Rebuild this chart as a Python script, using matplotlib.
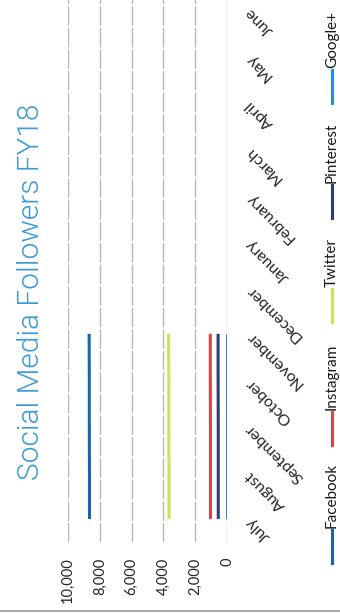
import matplotlib
matplotlib.use("Agg")
import matplotlib.pyplot as plt
from matplotlib.lines import Line2D

# data
months = ["July", "August", "September", "October", "November", "December",
          "January", "February", "March", "April", "May", "June"]
series = ["Facebook", "Instagram", "Twitter", "Pinterest", "Google+"]
facebook = [8650, 8650, 8660, 8660, 8670]
instagram = [1040, 1040, 1040, 1050, 1050]
twitter = [3650, 3650, 3660, 3660, 3670]
pinterest = [550, 550, 550, 560, 560]
google = [30, 30, 30, 30, 30]
value_ticks = [0, 2000, 4000, 6000, 8000, 10000]

colors = ["#1B64AC", "#D8434C", "#CFE05A", "#2C3D72", "#2290D8"]
values = [facebook, instagram, twitter, pinterest, google]

plt.rcParams['font.family'] = ['Lato', 'DejaVu Sans']

W, H = 340, 614
fig = plt.figure(figsize=(W / 100, H / 100), dpi=100)

def fx(px):
    return px / W

def fy(py):
    return 1 - py / H

# chart is rotated: value axis runs horizontally (inverted), months run upward
ax = fig.add_axes([fx(68), fy(542.2), fx(227) - fx(68), (542.2 + 13.5) / H])
idx = list(range(len(months)))
for vals, c in zip(values, colors):
    ax.plot(vals, idx[:len(vals)], color=c, lw=2.2, solid_capstyle='butt')

ax.set_xlim(10000, 0)
ax.set_ylim(-0.5, len(months) - 0.5)
ax.set_xticks(value_ticks)
ax.set_xticklabels([f"{v:,}" for v in value_ticks], rotation=90, fontsize=10.5, color="#262626")
ax.tick_params(axis='x', length=0, pad=11)
ax.yaxis.tick_right()
ax.set_yticks(idx)
ax.set_yticklabels(months, rotation=135, rotation_mode='anchor', ha='right', va='center',
                   fontsize=11.5, color="#262626")
ax.tick_params(axis='y', length=0, pad=15)
ax.grid(axis='x', color="#B8B8B8", lw=1, linestyle=(0, (14, 1.5)))
ax.set_axisbelow(True)
for s in ax.spines.values():
    s.set_visible(False)

fig.text(fx(31), fy(292), "Social Media Followers FY18", rotation=90, ha='center', va='center',
         fontsize=21.5, family=['Roboto', 'Lato'], fontweight=300, color="#3C9AD8")

# legend, drawn by hand since it is rotated too
leg_start = [563, 445, 322, 218, 103]
for name, c, y0 in zip(series, colors, leg_start):
    fig.add_artist(Line2D([fx(332), fx(332)], [fy(y0), fy(y0 - 33)], color=c, lw=2.2,
                          transform=fig.transFigure))
    fig.text(fx(332), fy(y0 - 35), name, rotation=90, ha='center', va='bottom',
             fontsize=11, color="#1A1A1A")

# page edge from the scan
fig.add_artist(Line2D([0, 1], [fy(611), fy(611)], color="#A8A8A8", lw=1.5, transform=fig.transFigure))

fig.savefig("out.png", dpi=100, facecolor="white")
